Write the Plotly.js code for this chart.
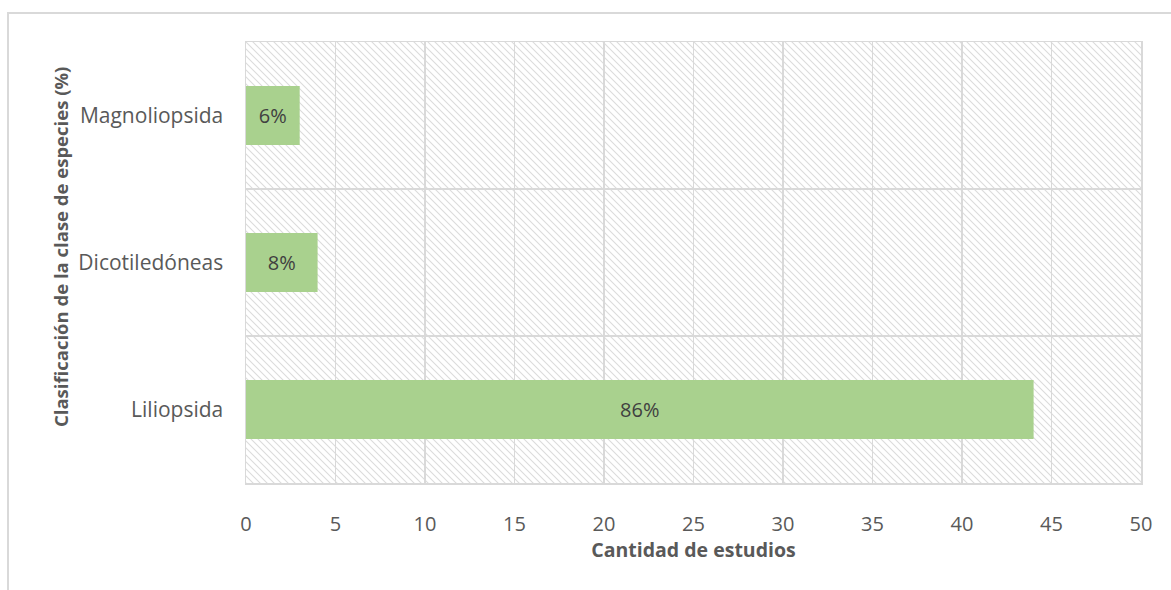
<!DOCTYPE html>
<html>
<head>
<meta charset="utf-8">
<script src="https://cdn.plot.ly/plotly-3.0.1.min.js"></script>
<style>
  html, body { margin: 0; padding: 0; background: #ffffff; }
  #wrap { position: relative; width: 1171px; height: 590px; overflow: hidden; }
  #frame { position: absolute; left: 7px; top: 12px; width: 1300px; height: 700px;
           border-left: 2px solid #d9d9d9; border-top: 2px solid #d9d9d9; box-sizing: border-box; }
  #chart { position: absolute; left: 0; top: 0; width: 1171px; height: 590px; }
</style>
</head>
<body>
<div id="wrap">
  <div id="frame"></div>
  <div id="chart"></div>
</div>
<script>
// Data (bottom to top in the chart)
const categories = ["Liliopsida", "Dicotiledóneas", "Magnoliopsida"];
const studies = [44, 4, 3];
const percentLabels = ["86%", "8%", "6%"];
const xTickValues = [0, 5, 10, 15, 20, 25, 30, 35, 40, 45, 50];
const xTitle = "Cantidad de estudios";
const yTitle = "Clasificación de la clase de especies (%)";

const plotW = 895, plotH = 441;
const hatchSvg =
  '<svg xmlns="http://www.w3.org/2000/svg" width="' + plotW + '" height="' + plotH + '" preserveAspectRatio="none">' +
  '<defs><pattern id="p" width="7" height="7" patternUnits="userSpaceOnUse">' +
  '<path d="M-1,-1 L8,8 M-8,-1 L1,8 M6,-1 L15,8" stroke="#dcdcdc" stroke-width="1.1"/>' +
  '</pattern></defs><rect width="100%" height="100%" fill="url(#p)"/></svg>';

const trace = {
  type: "bar",
  orientation: "h",
  y: categories,
  x: studies,
  text: percentLabels,
  textposition: "inside",
  insidetextanchor: "middle",
  textangle: 0,
  texttemplate: "%{text}",
  textfont: { family: "Open Sans, sans-serif", size: 20, color: "#404040" },
  marker: { color: "#a9d18e", line: { width: 0 } },
  hoverinfo: "x+y",
  cliponaxis: false
};

const layout = {
  width: 1171,
  height: 590,
  margin: { l: 246, r: 30, t: 42, b: 107, pad: 0 },
  paper_bgcolor: "rgba(0,0,0,0)",
  plot_bgcolor: "rgba(0,0,0,0)",
  bargap: 0.6,
  showlegend: false,
  font: { family: "Open Sans, sans-serif", color: "#595959", size: 20 },
  xaxis: {
    range: [0, 50],
    tickvals: xTickValues,
    ticktext: xTickValues.map(String),
    showgrid: true,
    gridcolor: "#d9d9d9",
    gridwidth: 1.5,
    zeroline: false,
    showline: true,
    linecolor: "#d9d9d9",
    linewidth: 1.5,
    mirror: true,
    ticks: "",
    ticklabelstandoff: 22,
    tickfont: { size: 20, color: "#595959" },
    title: { text: xTitle, font: { size: 19.5, color: "#595959", weight: "bold" }, standoff: 7 },
    fixedrange: true
  },
  yaxis: {
    type: "category",
    categoryorder: "array",
    categoryarray: categories,
    tickson: "boundaries",
    showgrid: true,
    gridcolor: "#d9d9d9",
    gridwidth: 1.5,
    zeroline: false,
    showline: true,
    linecolor: "#d9d9d9",
    linewidth: 1.5,
    mirror: true,
    ticks: "",
    ticklabelstandoff: 17,
    tickfont: { size: 21, color: "#595959" },
    fixedrange: true
  },
  annotations: [{
    text: yTitle,
    xref: "paper", yref: "paper",
    x: (60 - 246) / 895, y: (483 - 247) / 441,
    xanchor: "center", yanchor: "middle",
    textangle: -90,
    showarrow: false,
    font: { family: "Open Sans, sans-serif", size: 18.5, color: "#595959", weight: "bold" }
  }],
  images: [{
    source: "data:image/svg+xml;charset=utf-8," + encodeURIComponent(hatchSvg),
    xref: "paper", yref: "paper",
    x: 0, y: 1, sizex: 1, sizey: 1,
    xanchor: "left", yanchor: "top",
    sizing: "stretch",
    layer: "below"
  }]
};

Plotly.newPlot("chart", [trace], layout, { displayModeBar: false, staticPlot: true });
</script>
</body>
</html>
